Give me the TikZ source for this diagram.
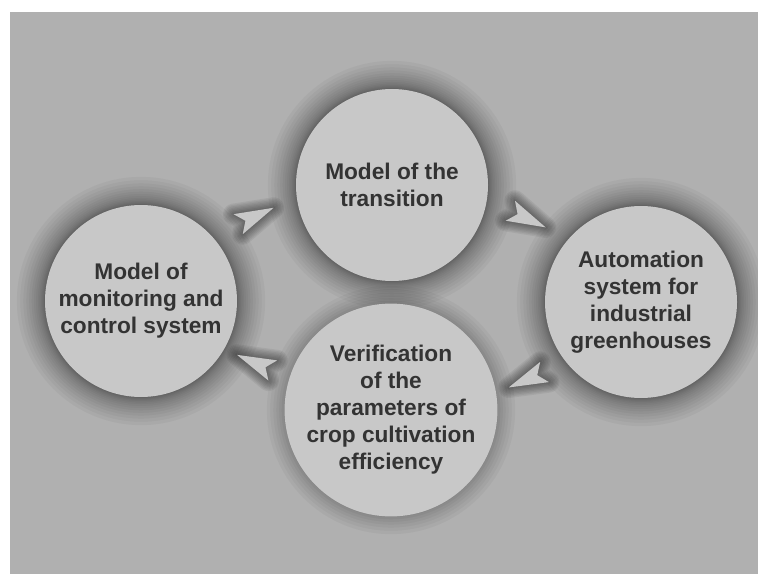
\documentclass[tikz,border=0pt]{standalone}
\usepackage{fontspec}
\setmainfont{Liberation Sans}
\usetikzlibrary{positioning}

\definecolor{bggray}{HTML}{B0B0B0}
\definecolor{discgray}{HTML}{C8C8C8}
\definecolor{inkgray}{HTML}{333333}

% outline of one arrowhead, pointing along +x
\newcommand{\headoutline}{(0.39,0) -- (-0.39,0.22) -- (-0.23,0) -- (-0.39,-0.22) -- cycle}

\begin{document}
\begin{tikzpicture}[
  stage/.style={circle, fill=discgray, minimum size=3.84cm, inner sep=0pt,
    align=center, text=inkgray, font=\fontsize{12.9}{15.4}\selectfont\bfseries},
  pics/arrowhead/.style={code={
    \begin{scope}[yshift=#1cm]
      \foreach \w in {1.5,3,...,12}
        \draw[black, opacity=0.06, line width=\w pt, line join=round] \headoutline;
      \fill[discgray] \headoutline;
    \end{scope}
  }}
]

% page and grey panel
\useasboundingbox (0,0) rectangle (15.16,11.48);
\fill[white] (0,0) rectangle (15.16,11.48);
\fill[bggray] (0.2,0) rectangle (15.16,11.24);

% centres of the four stages
\coordinate (cL) at (2.82,5.46);
\coordinate (cT) at (7.84,7.78);
\coordinate (cR) at (12.82,5.44);
\coordinate (cB) at (7.82,3.28);

% soft dark halo round each stage, denser near the rim
\foreach \c in {cL,cT,cR,cB}
  \foreach \k in {1,...,16}
    \fill[black, opacity=0.035] (\c) circle[radius=1.92+0.0022*\k*\k];

% the four stages of the cycle
\node[stage] (L) at (cL) {Model of\\monitoring and\\control system};
\node[stage] (T) at (cT) {Model of the\\transition};
\node[stage] (R) at (cR) {Automation\\system for\\industrial\\greenhouses};
\node[stage] (B) at (cB) {Verification\\of the\\parameters of\\crop cultivation\\efficiency};

% arrowheads, clockwise
\path[allow upside down] (L) -- (T) pic[pos=0.52, sloped] {arrowhead=0.58};
\path[allow upside down] (T) -- (R) pic[pos=0.5,  sloped] {arrowhead=0.54};
\path[allow upside down] (R) -- (B) pic[pos=0.57, sloped] {arrowhead=0.52};
\path[allow upside down] (B) -- (L) pic[pos=0.53, sloped] {arrowhead=0.22};

\end{tikzpicture}
\end{document}
